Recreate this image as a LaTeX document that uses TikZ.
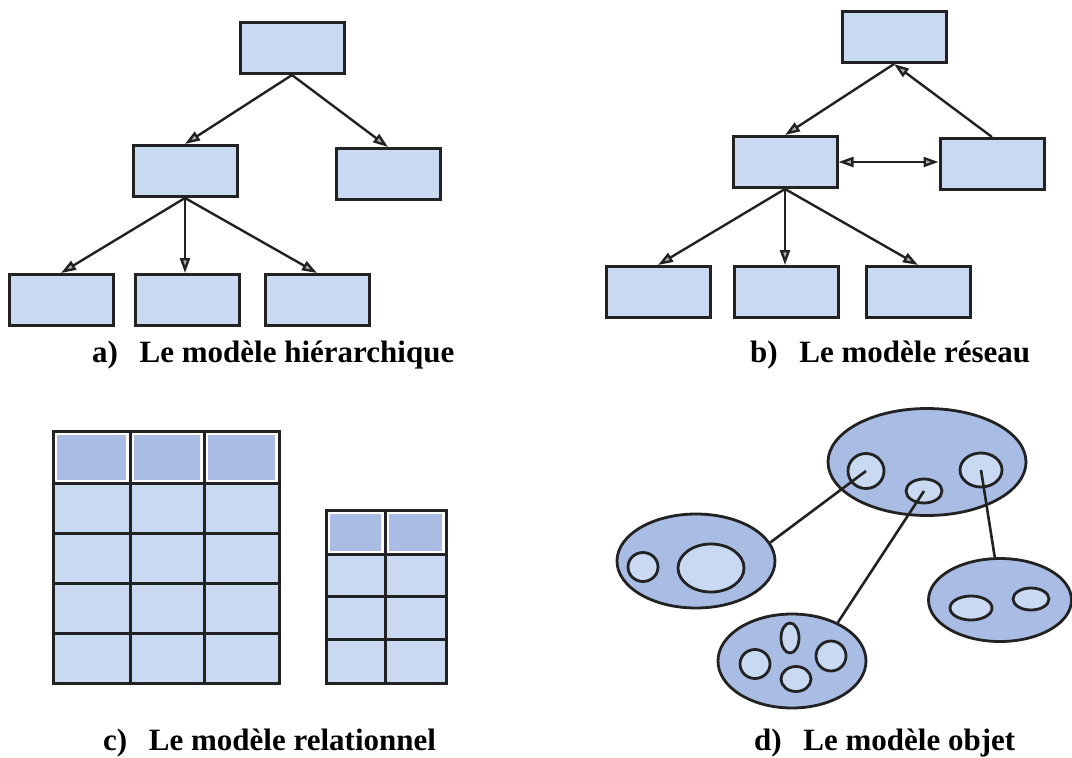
\documentclass[tikz,border=0pt]{standalone}
\usepackage{fontspec}
\setmainfont{Liberation Serif}
\usepackage{tikz}
\usetikzlibrary{positioning,arrows.meta,shapes.geometric}

\definecolor{boxblue}{HTML}{C9D9F1}
\definecolor{headblue}{HTML}{A9BDE4}
\definecolor{edgegray}{HTML}{222222}

\begin{document}
\begin{tikzpicture}[x=1pt,y=-1pt,
	box/.style={shape=rectangle,draw=edgegray,fill=boxblue,line width=3pt,minimum width=104pt,minimum height=51pt,inner sep=0pt},
	arr/.style={-{Triangle[length=15pt,width=10pt,fill=gray!60]},line width=2.4pt,draw=edgegray},
	dblarr/.style={{Triangle[length=15pt,width=10pt,fill=gray!60]}-{Triangle[length=15pt,width=10pt,fill=gray!60]},line width=2.4pt,draw=edgegray},
	grid/.style={draw=edgegray,line width=3pt},
	outer/.style={shape=ellipse,draw=edgegray,fill=headblue,line width=2.8pt,inner sep=0pt},
	inner/.style={shape=ellipse,draw=edgegray,fill=boxblue,line width=2.8pt,inner sep=0pt},
	link/.style={line width=2.6pt,draw=edgegray},
	caption/.style={anchor=base west,inner sep=0pt,font=\fontsize{31}{36}\selectfont\bfseries}]
	\useasboundingbox (0,0) rectangle (1072,758);

	% a) hierarchique
	\node[box] (h0) at (292,48) {};
	\node[box] (h1) at (185,171) {};
	\node[box] (h2) at (388,174) {};
	\node[box] (h3) at (61,300) {};
	\node[box] (h4) at (187,300) {};
	\node[box] (h5) at (317,300) {};
	\draw[arr] (h0.south) -- (h1.north);
	\draw[arr] (h0.south) -- (h2.north);
	\draw[arr] (h1.south) -- (h3.north);
	\draw[arr] (h1.south) -- (h1.south |- h4.north);
	\draw[arr] (h1.south) -- (h5.north);
	\node[caption] (capA) at (92,362) {a)\hspace{0.7em}Le modèle hiérarchique};

	% b) reseau
	\node[box] (r0) at (894,37) {};
	\node[box] (r1) at (785,162) {};
	\node[box] (r2) at (992,164) {};
	\node[box] (r3) at (658,292) {};
	\node[box] (r4) at (786,292) {};
	\node[box] (r5) at (918,292) {};
	\draw[arr] (r0.south) -- (r1.north);
	\draw[arr] (r2.north) -- (r0.south);
	\draw[dblarr] (r1.east) -- (r1.east -| r2.west);
	\draw[arr] (r1.south) -- (r3.north);
	\draw[arr] (r1.south) -- (r1.south |- r4.north);
	\draw[arr] (r1.south) -- (r5.north);
	\node[caption] (capB) at (750,362) {b)\hspace{0.7em}Le modèle réseau};

	% c) relationnel
	\fill[boxblue] (53,483) rectangle (279,683);
	\fill[white] (53,431) rectangle (279,483);
	\foreach \xa/\xb in {53/130,130/204,204/279}
		\fill[headblue] (\xa+4,435) rectangle (\xb-4,480);
	\draw[grid] (53,431) rectangle (279,683);
	\foreach \x in {130,204}
		\draw[grid] (\x,431) -- (\x,683);
	\foreach \y in {483,533,583,633}
		\draw[grid] (53,\y) -- (279,\y);
	\fill[boxblue] (326,554) rectangle (446,683);
	\fill[white] (326,510) rectangle (446,554);
	\foreach \xa/\xb in {326/385,385/446}
		\fill[headblue] (\xa+4,514) rectangle (\xb-4,551);
	\draw[grid] (326,510) rectangle (446,683);
	\draw[grid] (385,510) -- (385,683);
	\foreach \y in {554,596,639}
		\draw[grid] (326,\y) -- (446,\y);
	\node[caption] (capC) at (103,750) {c)\hspace{0.7em}Le modèle relationnel};

	% d) objet
	\node[outer,minimum width=198pt,minimum height=107pt] (o0) at (927,462) {};
	\node[inner,minimum width=36pt,minimum height=35pt] (o0a) at (866,471) {};
	\node[inner,minimum width=36pt,minimum height=24pt] (o0b) at (924,491) {};
	\node[inner,minimum width=42pt,minimum height=34pt] (o0c) at (981,470) {};
	\node[outer,minimum width=158pt,minimum height=94pt] (o1) at (696,561) {};
	\node[inner,minimum width=30pt,minimum height=29pt] (o1a) at (643,567) {};
	\node[inner,minimum width=66pt,minimum height=48pt] (o1b) at (711,568) {};
	\node[outer,minimum width=148pt,minimum height=94pt] (o2) at (792,661) {};
	\node[inner,minimum width=18pt,minimum height=30pt] (o2a) at (790,638) {};
	\node[inner,minimum width=30pt,minimum height=29pt] (o2b) at (755,664) {};
	\node[inner,minimum width=30pt,minimum height=25pt] (o2c) at (796,679) {};
	\node[inner,minimum width=30pt,minimum height=30pt] (o2d) at (831,656) {};
	\node[outer,minimum width=143pt,minimum height=83pt] (o3) at (1000,600) {};
	\node[inner,minimum width=42pt,minimum height=24pt] (o3a) at (971,608) {};
	\node[inner,minimum width=36pt,minimum height=22pt] (o3b) at (1031,599) {};
	\draw[link] (o0a.center) -- (o1.14);
	\draw[link] (o0b.center) -- (o2.40);
	\draw[link] (o0c.center) -- (o3.97);
	%\draw[link] (o0b) -- (o3);
	\node[caption] (capD) at (754,750) {d)\hspace{0.7em}Le modèle objet};
\end{tikzpicture}
\end{document}
